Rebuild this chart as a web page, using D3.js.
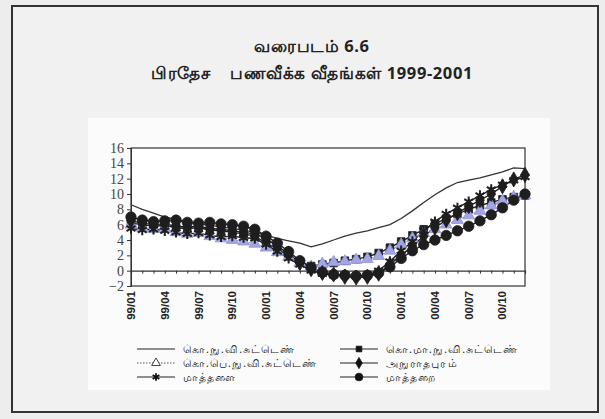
<!DOCTYPE html>
<html>
<head>
<meta charset="utf-8">
<script src="https://cdn.jsdelivr.net/npm/d3@7"></script>
<style>
  body { margin: 0; background: #fff; }
  svg { display: block; }
</style>
</head>
<body>
<script>
var W = 605, H = 419

// months 99/01 .. 01/12
var months = []
for (var y = 99; y <= 101; y++) {
  for (var m = 1; m <= 12; m++) months.push((y % 100 < 10 ? '0' : '') + (y % 100) + '/' + (m < 10 ? '0' : '') + m)
}
// tick labels as printed on the original (years misprinted in 2001)
var tickLabels = ['99/01','99/04','99/07','99/10','00/01','00/04','00/07','00/10','00/01','00/04','00/07','00/10']
var yTicks = [-2, 0, 2, 4, 6, 8, 10, 12, 14, 16]

var ccpi = [8.6,8.0,7.5,7.0,6.7,6.4,6.1,5.9,5.7,5.5,5.3,5.0,
            4.6,4.2,3.9,3.6,3.1,3.5,4.0,4.5,4.9,5.2,5.6,6.0,
            6.8,7.8,8.9,9.9,10.8,11.5,11.8,12.1,12.5,12.9,13.4,13.3]
var colomboMa = [6.2,6.0,5.8,5.9,5.6,5.5,5.6,5.3,5.2,5.0,4.8,4.5,
                 3.6,2.8,2.0,1.2,0.6,0.8,1.0,1.3,1.5,1.8,2.3,3.0,
                 3.8,4.6,5.4,6.1,6.8,7.4,8.0,8.5,8.9,9.3,9.6,9.8]
var colomboPe = [6.0,5.6,5.4,5.5,5.0,4.8,4.9,4.5,4.2,4.0,3.8,3.5,
                 3.0,2.4,1.8,1.0,0.5,0.9,1.1,1.2,1.4,1.5,1.9,2.6,
                 3.4,4.2,4.9,5.4,6.0,6.6,7.2,7.8,8.5,9.1,9.6,9.8]
var anuradhapura = [6.5,6.2,6.0,6.1,5.8,5.7,5.8,5.5,5.4,5.2,5.0,4.8,
                    4.2,3.2,2.2,1.0,0.2,-0.3,-0.5,-0.8,-0.9,-0.8,-0.4,0.8,
                    2.0,3.2,4.5,5.6,6.6,7.5,8.4,9.2,10.0,11.0,11.9,12.5]
var matale = [5.5,5.3,5.4,5.2,5.0,4.8,4.9,4.6,4.4,4.5,4.3,4.2,
              3.4,2.5,1.6,0.8,0.0,-0.4,-0.6,-0.5,-0.7,-0.6,0.0,1.2,
              2.6,3.8,5.2,6.4,7.4,8.2,9.0,9.8,10.6,11.2,11.8,12.2]
var matara = [7.0,6.6,6.4,6.5,6.6,6.3,6.2,6.3,6.1,6.0,5.8,5.4,
              4.5,3.6,2.5,1.3,0.4,-0.2,-0.5,-0.6,-0.7,-0.6,-0.3,0.5,
              1.6,2.6,3.4,4.0,4.6,5.2,5.8,6.5,7.3,8.2,9.2,10.0]

var names = ['கொ.நு.வி.சுட்டெண்','கொ.மா.நு.வி.சுட்டெண்','கொ.பெ.நு.வி.சுட்டெண்','அநுராதபுரம்','மாத்தளை','மாத்தறை']

var series = [
  {name: names[1], values: colomboMa, sym: d3.symbolSquare, size: 58, fill: '#1e1e1e', line: '#1e1e1e', dash: null},
  {name: names[2], values: colomboPe, sym: d3.symbolTriangle, size: 60, fill: '#a3a6e6', line: '#8f92d6', dash: '2,2'},
  {name: names[3], values: anuradhapura, sym: d3.symbolDiamond, size: 66, fill: '#1e1e1e', line: '#1e1e1e', dash: null},
  {name: names[4], values: matale, sym: d3.symbolAsterisk, size: 75, fill: 'none', line: '#1e1e1e', dash: null},
  {name: names[5], values: matara, sym: d3.symbolCircle, size: 85, fill: '#1e1e1e', line: '#1e1e1e', dash: null}
]

var svg = d3.select('body').append('svg').attr('width', W).attr('height', H)

// scanned page background + frame
svg.append('rect').attr('width', W).attr('height', H).attr('fill', '#ededed')
svg.append('rect').attr('x', 12).attr('y', 6).attr('width', 586).attr('height', 406)
  .attr('fill', '#f1f1f1').attr('stroke', '#333').attr('stroke-width', 2)
svg.append('rect').attr('x', 88).attr('y', 118).attr('width', 462).attr('height', 272).attr('fill', '#fbfbfb')

svg.append('text').attr('x', 312).attr('y', 52).attr('text-anchor', 'middle')
  .attr('font-family', 'Noto Sans, DejaVu Sans, sans-serif').attr('font-size', 16.5).attr('font-weight', 'bold')
  .attr('letter-spacing', 0.6).attr('fill', '#222').text('வரைபடம் 6.6')
svg.append('text').attr('x', 312).attr('y', 79).attr('text-anchor', 'middle')
  .attr('font-family', 'Noto Sans, DejaVu Sans, sans-serif').attr('font-size', 16.5).attr('font-weight', 'bold')
  .attr('letter-spacing', 0.6).attr('fill', '#222').attr('xml:space', 'preserve').text('பிரதேச    பணவீக்க வீதங்கள் 1999-2001')

var x = d3.scaleLinear().domain([0, months.length - 1]).range([131, 525])
var yS = d3.scaleLinear().domain([-2, 16]).range([286, 148])

var plot = svg.append('g')
plot.append('rect').attr('x', 131).attr('y', 148).attr('width', 394).attr('height', 138)
  .attr('fill', '#fff').attr('stroke', '#333').attr('stroke-width', 1.2)

// y axis
var yAxis = plot.append('g').attr('transform', 'translate(131,0)')
  .call(d3.axisLeft(yS).tickValues(yTicks).tickSize(4).tickFormat(d3.format('d')))
yAxis.select('.domain').attr('stroke', '#333')
yAxis.selectAll('line').attr('stroke', '#333')
yAxis.selectAll('text').attr('font-family', 'Liberation Serif, serif').attr('font-size', 14).attr('fill', '#444')

// category axis at zero
var xAxis = plot.append('g').attr('transform', 'translate(0,' + yS(0) + ')')
  .call(d3.axisBottom(x).tickValues(d3.range(months.length)).tickSize(3).tickFormat(''))
xAxis.select('.domain').attr('stroke', '#333').attr('stroke-width', 1.2)
xAxis.selectAll('line').attr('stroke', '#333')

// rotated month labels under the plot
plot.selectAll('.mlab').data(tickLabels).enter().append('text')
  .attr('class', 'mlab')
  .attr('transform', function(d, i) { return 'translate(' + (x(i * 3) + 4) + ',291) rotate(-90)' })
  .attr('text-anchor', 'end')
  .attr('font-family', 'Liberation Sans Narrow, Liberation Sans, sans-serif')
  .attr('font-size', 11.5).attr('font-weight', 'bold').attr('fill', '#222')
  .text(function(d) { return d })

// lines
var line = d3.line().x(function(d, i) { return x(i) }).y(function(d) { return yS(d) })

plot.append('path').datum(ccpi).attr('d', line).attr('fill', 'none').attr('stroke', '#333').attr('stroke-width', 1.3)

series.forEach(function(s) {
  plot.append('path').datum(s.values).attr('d', line).attr('fill', 'none')
    .attr('stroke', s.line).attr('stroke-width', 1.4).attr('stroke-dasharray', s.dash)
})
series.forEach(function(s) {
  plot.append('g').selectAll('path').data(s.values).enter().append('path')
    .attr('transform', function(d, i) { return 'translate(' + x(i) + ',' + yS(d) + ')' })
    .attr('d', d3.symbol().type(s.sym).size(s.size))
    .attr('fill', s.fill)
    .attr('stroke', s.sym === d3.symbolTriangle ? '#8f92d6' : '#1e1e1e')
    .attr('stroke-width', s.sym === d3.symbolAsterisk ? 2 : 0.8)
})

// legend
var legendItems = [
  {name: names[0], sym: null, fill: 'none', line: '#333', dash: null},
  series[0], series[1], series[2], series[3], series[4]
]
var lg = svg.append('g').attr('font-family', 'Noto Sans, DejaVu Sans, sans-serif').attr('font-size', 10.5)
legendItems.forEach(function(s, i) {
  var col = i % 2, row = Math.floor(i / 2)
  var lx = col === 0 ? 137 : 340, ly = 349 + row * 14
  var g = lg.append('g').attr('transform', 'translate(' + lx + ',' + ly + ')')
  g.append('line').attr('x1', 0).attr('x2', 38).attr('stroke', s.dash ? '#555' : '#222')
    .attr('stroke-width', 1.2).attr('stroke-dasharray', s.dash ? '1.5,1.5' : null)
  if (s.sym) {
    g.append('path').attr('transform', 'translate(19,0)')
      .attr('d', d3.symbol().type(s.sym).size(s.size * 0.55))
      .attr('fill', s.fill === 'none' ? 'none' : (s.dash ? '#fff' : '#111'))
      .attr('stroke', '#111').attr('stroke-width', s.sym === d3.symbolAsterisk ? 1.8 : 0.8)
  }
  g.append('text').attr('x', 46).attr('y', 4).attr('fill', '#222').attr('letter-spacing', 1.1).text(s.name)
})
</script>
</body>
</html>
